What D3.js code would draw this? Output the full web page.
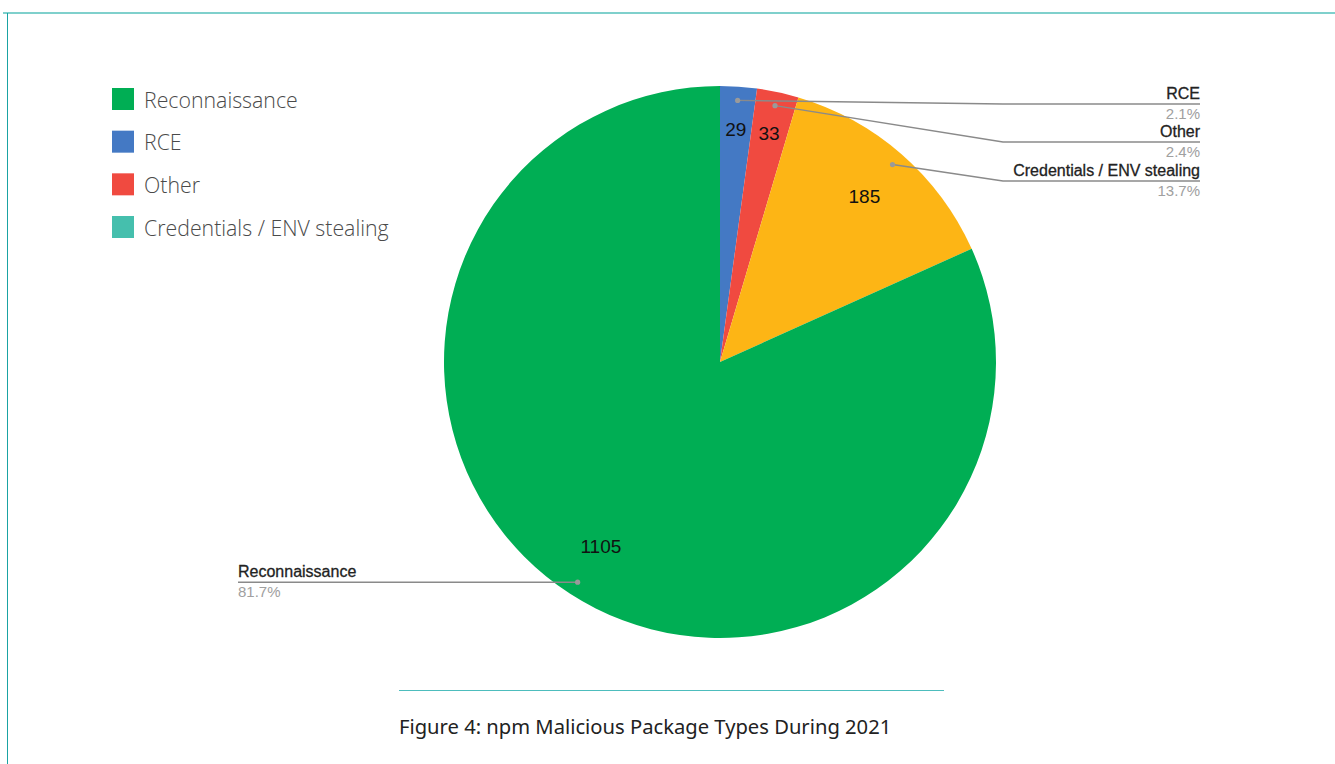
<!DOCTYPE html>
<html>
<head>
<meta charset="utf-8">
<script src="https://cdn.jsdelivr.net/npm/d3@7"></script>
<style>
  html, body { margin: 0; padding: 0; background: #fff; }
  svg { display: block; }
</style>
</head>
<body>
<svg id="chart" width="1335" height="764"></svg>
<script>
// slices in clockwise order from 12 o'clock
const categories = ["RCE", "Other", "Credentials / ENV stealing", "Reconnaissance"];
const values = [29, 33, 185, 1105];
const sliceColors = ["#4479c4", "#f04a40", "#fdb515", "#00ae54"];

// legend keeps its own order and swatches
const legendItems = ["Reconnaissance", "RCE", "Other", "Credentials / ENV stealing"];
const legendColors = ["#00ae54", "#4479c4", "#f04a40", "#45bfad"];

const caption = "Figure 4: npm Malicious Package Types During 2021";

const svg = d3.select("#chart");
const width = 1335, height = 764;

// frame lines
svg.append("line")
  .attr("x1", 3).attr("x2", width).attr("y1", 13).attr("y2", 13)
  .attr("stroke", "#7fd0cc").attr("stroke-width", 2);
svg.append("line")
  .attr("x1", 7.5).attr("x2", 7.5).attr("y1", 13).attr("y2", height)
  .attr("stroke", "#1aa3a3").attr("stroke-width", 1);

const cx = 720, cy = 362, radius = 276;
const total = d3.sum(values);
const data = categories.map((c, i) => ({ name: c, value: values[i], color: sliceColors[i] }));

const pie = d3.pie().sort(null).value(d => d.value);
const arcs = pie(data);
const arc = d3.arc().innerRadius(0).outerRadius(radius);

const g = svg.append("g").attr("transform", `translate(${cx},${cy})`);

g.selectAll("path.slice")
  .data(arcs)
  .join("path")
  .attr("class", "slice")
  .attr("d", arc)
  .attr("fill", d => d.data.color);

// value labels inside slices
const polar = (r, a) => [r * Math.sin(a), -r * Math.cos(a)];
const labelPos = d => {
  const a = (d.startAngle + d.endAngle) / 2;
  const r = d.endAngle - d.startAngle < 0.3 ? radius * 0.845 : radius * 0.795;
  return polar(r, a);
};
g.selectAll("text.val")
  .data(arcs)
  .join("text")
  .attr("class", "val")
  .attr("x", d => labelPos(d)[0])
  .attr("y", d => labelPos(d)[1])
  .attr("text-anchor", "middle")
  .attr("dominant-baseline", "central")
  .attr("font-family", "Liberation Sans, Arial, sans-serif")
  .attr("font-size", 19)
  .attr("fill", "#111")
  .text(d => d.value);

// callouts
const fmt = v => (v / total * 100).toFixed(1) + "%";
const labelRight = 1200 - cx, elbowX = 1003 - cx;
const rightRows = [104, 142, 181].map(y => y - cy);
const anchorR = radius * 0.95;

arcs.forEach((d, i) => {
  const a = (d.startAngle + d.endAngle) / 2;
  const [ax, ay] = polar(anchorR, a);
  let pts, tx, anchor;
  if (i < 3) {
    const ly = rightRows[i];
    pts = [[ax, ay], [elbowX, ly], [labelRight, ly]];
    tx = labelRight; anchor = "end";
  } else {
    pts = [[ax, ay], [238 - cx, ay]];
    tx = 238 - cx; anchor = "start";
  }
  const ly = pts[pts.length - 1][1];
  g.append("path")
    .attr("d", d3.line()(pts))
    .attr("fill", "none")
    .attr("stroke", "#8a8a8a")
    .attr("stroke-width", 1.4);
  g.append("circle")
    .attr("cx", ax).attr("cy", ay).attr("r", 2.6)
    .attr("fill", "#9a9a9a");
  g.append("text")
    .attr("x", tx).attr("y", ly - 5)
    .attr("text-anchor", anchor)
    .attr("font-family", "Liberation Sans, Arial, sans-serif")
    .attr("font-size", 16)
    .attr("fill", "#222")
    .attr("stroke", "#222").attr("stroke-width", 0.3)
    .text(d.data.name);
  g.append("text")
    .attr("x", tx).attr("y", ly + 15)
    .attr("text-anchor", anchor)
    .attr("font-family", "Liberation Sans, Arial, sans-serif")
    .attr("font-size", 15)
    .attr("fill", "#a0a0a0")
    .text(fmt(d.data.value));
});

// legend
const legend = svg.append("g").attr("transform", "translate(112,88)");
const rowY = d3.scalePoint().domain(legendItems).range([0, 128]);
const lg = legend.selectAll("g")
  .data(legendItems)
  .join("g")
  .attr("transform", d => `translate(0,${rowY(d)})`);
lg.append("rect")
  .attr("width", 22).attr("height", 22)
  .attr("fill", (d, i) => legendColors[i]);
lg.append("text")
  .attr("x", 32).attr("y", 11)
  .attr("dominant-baseline", "central")
  .attr("font-family", "Open Sans, Noto Sans, sans-serif")
  .attr("font-size", 21.3)
  .attr("font-weight", 300)
  .attr("fill", "#4a4a4a")
  .text(d => d);

// caption
svg.append("line")
  .attr("x1", 399).attr("x2", 944).attr("y1", 690.5).attr("y2", 690.5)
  .attr("stroke", "#4dbdbd").attr("stroke-width", 1);
svg.append("text")
  .attr("x", 399).attr("y", 734)
  .attr("font-family", "Noto Sans, Open Sans, sans-serif")
  .attr("font-size", 20.2)
  .attr("fill", "#222")
  .text(caption);
</script>
</body>
</html>
